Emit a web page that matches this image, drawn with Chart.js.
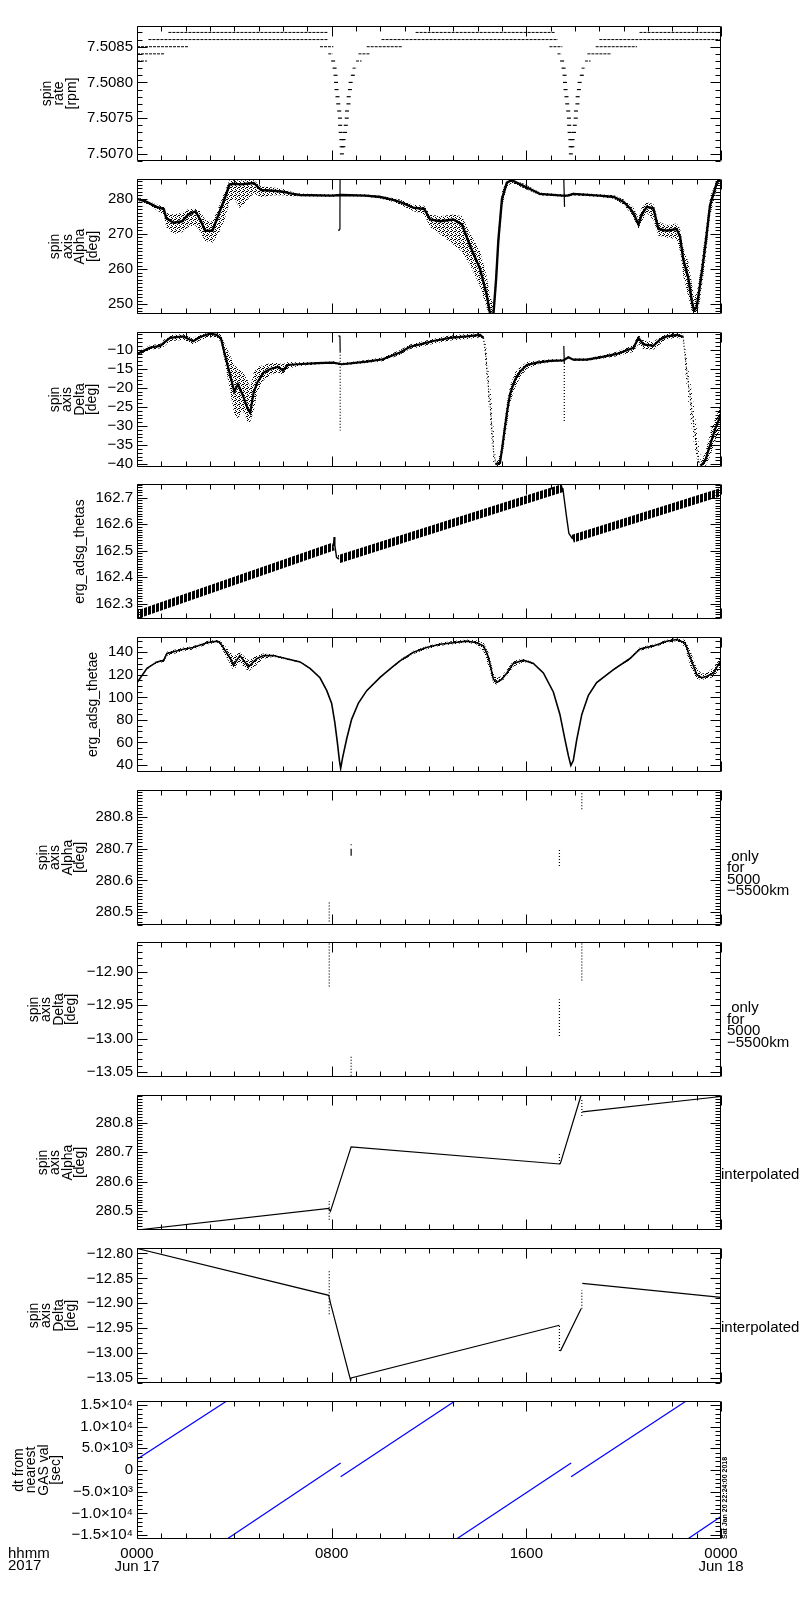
<!DOCTYPE html>
<html><head><meta charset="utf-8">
<script src="https://cdn.jsdelivr.net/npm/chart.js@4.4.1/dist/chart.umd.min.js"></script>
<style>
html,body{margin:0;padding:0;background:#fff;}
#wrap{position:relative;width:800px;height:1600px;overflow:hidden;background:#fff;}
#wrap canvas{position:absolute;left:0;}
</style></head><body><div id="wrap"></div>
<script>
// ===================== DATA (hours since 2017-06-17 00:00) =====================
const X_TICKS = [0, 8, 16, 24];
const X_LABELS = [['0000','Jun 17'], ['0800'], ['1600'], ['0000','Jun 18']];

// Panel 1: spin rate [rpm] – quantised levels (level, start h, end h)
const P1_LEVEL = [7.5083,7.5084,7.5085,7.5086,7.5087, 7.5085,7.5084, 7.5081,7.5082,7.5083,7.5084,7.5085,7.5086,7.5087, 7.5085,7.5084, 7.5081,7.5082,7.5083,7.5084,7.5085,7.5086,7.5087];
const P1_START = [0,0,0,0.47,1.29, 7.52,7.86, 8.86,8.86,9.00,9.10,9.44,10.05,11.45, 16.95,17.28, 18.27,18.27,18.41,18.51,18.85,19.00,20.65];
const P1_END   = [0.41,1.15,2.11,7.86,7.86, 8.07,8.04, 8.89,9.03,9.23,9.58,10.90,17.30,17.20, 17.48,17.45, 18.30,18.44,18.64,19.50,20.55,24,24];
const P1_DIP_T = [8.06,8.12,8.16,8.18,8.20,8.24,8.27,8.31,8.34,8.35,8.37,8.40,8.41,8.42,8.48,8.49,8.55,8.58,8.62,8.63,8.69,8.70,8.75,8.78,8.87,
                  17.47,17.53,17.57,17.59,17.61,17.65,17.68,17.72,17.75,17.76,17.78,17.81,17.82,17.83,17.89,17.90,17.96,17.99,18.03,18.04,18.10,18.11,18.16,18.19,18.28];
const P1_DIP_V = [7.5083,7.5082,7.5081,7.5080,7.5079,7.5078,7.5077,7.5076,7.5075,7.5074,7.5073,7.5072,7.5071,7.5070,7.5071,7.5072,7.5073,7.5074,7.5075,7.5076,7.5077,7.5078,7.5079,7.5080,7.5081,
                  7.5083,7.5082,7.5081,7.5080,7.5079,7.5078,7.5077,7.5076,7.5075,7.5074,7.5073,7.5072,7.5071,7.5070,7.5071,7.5072,7.5073,7.5074,7.5075,7.5076,7.5077,7.5078,7.5079,7.5080,7.5081];

// Panel 2: spin axis Alpha [deg]
const P2_T = [0,0.4,0.8,1.1,1.2,1.5,1.85,2.1,2.4,2.6,2.8,3.1,3.35,3.6,3.8,4.0,4.25,4.5,4.8,5.1,5.6,6.0,6.4,6.7,8.0,
  8.4,9.4,10.0,10.4,10.8,11.35,11.8,12.05,12.45,13.0,13.35,13.7,14.1,14.37,14.51,14.65,14.76,14.85,15.0,15.2,15.4,15.9,16.3,16.55,17.5,
  17.7,17.93,19.0,19.6,20.0,20.26,20.4,20.61,20.74,20.95,21.22,21.43,21.77,22.18,22.32,22.45,22.66,22.8,22.89,23.0,23.14,23.35,23.55,23.83,23.96];
const P2_MID = [280,279.1,277.7,277.1,274.5,273.2,273.6,275.5,276.4,274.1,270.9,270.9,275.5,280,284.1,284.3,284.1,284.3,284.5,282.5,282.3,282.0,281.4,281.1,280.9,
  281.1,280.9,280.5,279.9,279.1,277.5,277.1,274.1,273.6,274.1,272.7,266.4,260.0,252.7,247.3,247.3,257.3,268.2,280.0,284.6,285.3,283.6,282.3,281.4,280.9,
  280.9,281.4,280.9,280.5,279.1,277.3,275.9,272.7,275.5,277.7,277.3,271.4,270.9,271.4,269.1,262.7,257.3,250.9,248.2,249.1,255.5,266.4,278.2,284.6,285.5];
const P2_LO = [279.5,278.5,276.8,275.5,272,270,270.5,272,272.5,270.5,268,267.5,270,274,279,280,277,279.5,281.5,280.5,281,281,280.7,280.7,280.6,
  280.8,280.6,280.1,279.4,278.4,276.5,275.5,272,270,267,265,261,255,249,246,246,254,265,277.5,283.5,284.5,283,281.8,281,280.6,
  280.6,281.0,280.5,280.0,278.3,276.2,274.5,271.5,273.5,276,274,269.5,269,268.5,265,258,252,248,247,247,251,262,275,283,284.5];
const P2_HI = [280.5,279.6,278.4,277.8,276,275.5,276,277,277.2,276.5,274,273.5,277.5,282,285.3,285.3,285.2,285.3,285.3,283.5,283.2,282.8,281.9,281.5,281.2,
  281.4,281.2,280.9,280.4,279.8,278.3,278,275.5,275,275.5,275,270,265,258,252,250,261,271,282,285.5,285.6,284.3,282.8,281.8,281.2,
  281.2,281.7,281.3,281.0,279.8,278.3,277.5,274.5,277.5,279,278.5,273.5,272.5,273,271.5,266,262,256,252,253,259,270,280.5,285.5,285.6];
const P2_SPIKE1_T = [8.27,8.30,8.33,8.34,8.345];
const P2_SPIKE1_V = [271.0,271.1,271.4,276,285.6];
const P2_SPIKE2_T = [17.54,17.57];
const P2_SPIKE2_V = [285.5,277.7];

// Panel 3: spin axis Delta [deg]
const P3A_T = [0,0.55,0.96,1.1,1.36,1.9,2.31,2.59,3.0,3.27,3.45,3.6,3.8,4.0,4.15,4.35,4.55,4.65,4.8,4.95,5.2,5.5,5.8,6.0,6.2,6.6,7.4,8.07,8.41,9.44,10.1,10.81,11.22,11.63,12.18,12.86,13.55,14.1,14.24];
const P3A_MID = [-11.1,-9.4,-9.0,-8.2,-6.9,-6.5,-7.75,-6.66,-5.8,-6.1,-7.0,-11,-16,-21,-19,-22,-25.5,-26.5,-21,-18.5,-16,-15,-14.5,-15.5,-14,-13.8,-13.5,-13.4,-13.8,-13.1,-12.5,-10.7,-9.2,-8.6,-7.7,-6.9,-6.5,-6.1,-6.9];
const P3A_LO = [-11.6,-10,-9.6,-9.2,-7.8,-7.4,-8.6,-7.5,-6.6,-6.8,-8,-13,-20,-27,-28,-26,-29,-29,-26,-21,-18,-16.5,-16,-16.5,-15,-14.3,-13.8,-13.7,-14.1,-13.5,-13.0,-11.3,-9.8,-9.3,-8.4,-7.6,-7.2,-6.8,-7.5];
const P3A_HI = [-10.6,-8.8,-8.4,-7.4,-6.2,-5.9,-6.9,-6.0,-5.4,-5.5,-6,-8.5,-11,-14,-15,-16,-18,-20,-16,-14.5,-14,-13.5,-13.5,-13.8,-13.2,-13.3,-13.2,-13.1,-13.5,-12.7,-12.0,-10.1,-8.6,-8.0,-7.1,-6.3,-5.9,-5.6,-6.2];
const P3D1_T = [14.24,14.35,14.44,14.54,14.65,14.74];
const P3D1_MID = [-6.9,-12.35,-19.9,-26.6,-36.6,-40.0];
const P3D1_LO = [-7.5,-16,-24,-31,-40.7,-40.7];
const P3D1_HI = [-6.2,-9,-15,-21,-30,-38];
const P3B_T = [14.74,14.92,15.06,15.2,15.33,15.54,15.75,16.02,16.43,16.98,17.52,17.73,17.93,18.48,19.03,19.72,20.4,20.61,20.81,21.22,21.5,21.77,22.18,22.45];
const P3B_MID = [-40.0,-39.6,-33.3,-26.6,-21.6,-17.8,-15.7,-14.0,-13.4,-12.9,-12.8,-12.0,-12.6,-12.6,-12.0,-11.1,-9.5,-6.9,-8.6,-9.0,-7.3,-6.5,-6.1,-6.6];
const P3B_LO = [-40.7,-40.7,-36,-30,-24,-20,-17.2,-15,-13.9,-13.3,-13.1,-12.3,-12.9,-12.9,-12.4,-11.7,-10.5,-8.5,-9.8,-10,-8.5,-7.3,-6.8,-7.3];
const P3B_HI = [-39.5,-37.5,-31,-24,-19.5,-16,-14.5,-13.2,-12.9,-12.5,-12.4,-11.7,-12.3,-12.3,-11.6,-10.5,-8.6,-6.0,-7.5,-8.0,-6.5,-5.8,-5.5,-5.9];
const P3D2_T = [22.45,22.52,22.66,22.87,23.07,23.17];
const P3D2_MID = [-6.6,-11.5,-19.0,-29.1,-39.1,-40.4];
const P3D2_LO = [-7.3,-15,-24,-34,-40.7,-40.7];
const P3D2_HI = [-5.9,-9,-15,-24,-34,-38];
const P3C_T = [23.17,23.35,23.55,23.76,23.96];
const P3C_MID = [-40.4,-39.1,-35.0,-30.8,-27.5];
const P3C_LO = [-40.7,-40.7,-38,-34,-31];
const P3C_HI = [-39.5,-37,-32,-28,-25];
const P3_SPIKE1_T = [8.28,8.34,8.35];
const P3_SPIKE1_V = [-6.3,-6.5,-10.5];
const P3_SPIKE1_DOT_T = [8.35,8.35];
const P3_SPIKE1_DOT_V = [-10.5,-31.2];
const P3_SPIKE2_T = [17.54,17.56];
const P3_SPIKE2_V = [-9.0,-13.5];
const P3_SPIKE2_DOT_T = [17.56,17.56];
const P3_SPIKE2_DOT_V = [-13.5,-29.1];

// Panel 4: erg_adsg_thetas – three ramps and two jumps
const P4_RAMP_T0 = [0, 8.30, 17.90];
const P4_RAMP_V0 = [162.258, 162.468, 162.545];
const P4_RAMP_T1 = [8.07, 17.50, 24];
const P4_RAMP_V1 = [162.516, 162.737, 162.722];
const P4_JUMP1_T = [8.07, 8.10, 8.13, 8.20, 8.30];
const P4_JUMP1_V = [162.516, 162.552, 162.52, 162.475, 162.468];
const P4_JUMP2_T = [17.50, 17.55, 17.65, 17.75, 17.90];
const P4_JUMP2_V = [162.737, 162.70, 162.63, 162.565, 162.545];

// Panel 5: erg_adsg_thetae
const P5_T = [0,0.41,0.82,1.1,1.23,1.9,2.3,2.88,3.3,3.42,3.84,3.96,4.23,4.58,4.92,5.19,5.6,6.15,6.7,7.11,7.52,7.8,8.0,8.13,8.23,8.32,8.37,8.45,8.62,8.82,9.1,9.44,10.0,10.5,10.81,
  11.36,11.9,12.45,13.0,13.55,13.96,14.24,14.44,14.65,14.78,14.99,15.2,15.47,15.88,16.29,16.7,17.11,17.38,17.59,17.73,17.83,17.93,18.07,18.28,18.55,18.89,19.58,20.26,20.67,21.22,21.77,22.18,22.52,22.73,23.0,23.21,23.42,23.69,23.96];
const P5_MID = [113,125.8,131.5,133,139,142.8,144.2,148.5,149.9,148.5,134.3,128.6,137.1,127.2,134.3,137.1,137.1,134.3,131.5,125.8,117.4,106,94.7,77.7,60.7,43.7,37,46.5,63.5,80.5,95,106,118,127,132.5,
  140,144.2,147.1,148.5,149.9,148.5,145.7,135.8,116,113.2,116,121.7,130.2,133,130.2,121.7,104.8,84.9,62.3,48.1,39.6,43.9,62.3,84.9,101.9,113.2,124.6,134.5,143,145.7,149.9,151.4,148.5,135.8,120.2,117.4,118.8,121.7,131.6];
const P5_LO = [112.5,125,130,131.5,137,141,142.5,147,148.5,146,129,124,131,123,129,134,136,133.5,131,125.3,116.9,105.5,94.2,77.2,60.2,43.2,36.5,46,63,80,94.5,105.5,117.5,126.5,131.5,
  138.5,142.8,145.8,147.2,148.5,147,141,128,112.5,111.5,114,119,127.5,131.5,129.7,121.2,104.3,84.4,61.8,47.6,39.1,43.4,61.8,84.4,101.4,112.7,124.1,133.5,141.5,144.3,148.5,150,145,128,116.5,115.5,116.5,118,126];
const P5_HI = [113.5,126.5,132.5,134.5,140.5,144.2,145.5,150,151.2,150.5,140,136,140,133,137,139,138,135,132,126.3,117.9,106.5,95.2,78.2,61.2,44.2,37.5,47,64,81,95.5,106.5,118.5,127.5,133.5,
  141.5,145.5,148.5,150,151.3,150.5,148.5,140,122,117,119,124.5,132.5,134.5,130.7,122.2,105.3,85.4,62.8,48.6,40.1,44.4,62.8,85.4,102.4,113.7,125.1,135.5,144.5,147,151.2,152.8,151,142,126,121,122,126,135];

// Panel 6: Alpha only for 5000-5500 km
const P6_SEG_T = [7.90, 17.36, 18.28];
const P6_SEG_LO = [280.47, 280.646, 280.825];
const P6_SEG_HI = [280.53, 280.698, 280.878];
const P6_STEM_T = [8.80];
const P6_STEM_LO = [280.678];
const P6_STEM_HI = [280.700];
const P6_DOT_T = [8.80];
const P6_DOT_V = [280.713];

// Panel 7: Delta only for 5000-5500 km
const P7_SEG_T = [7.90, 8.80, 17.36, 18.28];
const P7_SEG_LO = [-12.922, -13.055, -12.996, -12.913];
const P7_SEG_HI = [-12.858, -13.026, -12.941, -12.858];

// Panel 8: Alpha interpolated
const P8_T = [0, 7.88, 7.95, 8.80, 17.36, 17.40, 18.25, 18.27, 18.30, 24];
const P8_V = [280.437, 280.51, 280.50, 280.718, 280.66, 280.662, 280.892, null, 280.836, 280.888];
const P8_SEG_T = [7.90, 17.36, 18.28];
const P8_SEG_LO = [280.472, 280.66, 280.822];
const P8_SEG_HI = [280.535, 280.70, 280.88];

// Panel 9: Delta interpolated
const P9_T = [0, 7.88, 7.95, 8.78, 8.80, 17.36, 17.38, 17.40, 18.25, 18.27, 18.30, 24];
const P9_V = [-12.790, -12.884, -12.899, -13.055, -13.050, -12.944, null, -12.996, -12.911, null, -12.860, -12.888];
const P9_SEG_T = [7.90, 17.36, 18.28];
const P9_SEG_LO = [-12.922, -12.996, -12.911];
const P9_SEG_HI = [-12.832, -12.944, -12.874];

// Panel 10: dt from nearest GAS val [sec] – straight pieces
const P10_T0 = [0, 3.67, 8.37, 13.10, 17.84, 22.60];
const P10_V0 = [2500, -16000, -1550, -16000, -1550, -16000];
const P10_T1 = [3.72, 8.37, 13.10, 17.84, 22.60, 24];
const P10_V1 = [16000, 1600, 16000, 1600, 16000, -10700];

// Axis tick labels
const Y1 = [7.5070, 7.5075, 7.5080, 7.5085];
const Y2 = [250, 260, 270, 280];
const Y3 = [-40, -35, -30, -25, -20, -15, -10];
const Y4 = [162.3, 162.4, 162.5, 162.6, 162.7];
const Y5 = [40, 60, 80, 100, 120, 140];
const Y6 = [280.5, 280.6, 280.7, 280.8];
const Y7 = [-13.05, -13.00, -12.95, -12.90];
const Y8 = [280.5, 280.6, 280.7, 280.8];
const Y9 = [-13.05, -13.00, -12.95, -12.90, -12.85, -12.80];
const Y10 = [-15000, -10000, -5000, 0, 5000, 10000, 15000];
const Y10_TEXT = ['\u22121.5\u00d710\u2074','\u22121.0\u00d710\u2074','\u22125.0\u00d710\u00b3','0','5.0\u00d710\u00b3','1.0\u00d710\u2074','1.5\u00d710\u2074'];

// ===================== RENDERING =====================
const FAM = "'Liberation Sans', 'DejaVu Sans', sans-serif";
Chart.defaults.font.family = FAM;
Chart.defaults.font.size = 15;
Chart.defaults.color = '#000';

const PANEL_TOPS = [23, 176, 329, 481, 634, 787, 939, 1092, 1245, 1398];
const PH = 141, M = 10;
const wrap = document.getElementById('wrap');

function makePat(w, h, cells) {
  const c = document.createElement('canvas'); c.width = w; c.height = h;
  const g = c.getContext('2d'); g.fillStyle = '#000';
  cells.forEach(([x, y]) => g.fillRect(x, y, 1, 1));
  return g.createPattern(c, 'repeat');
}
const STIPPLE = makePat(4, 4, [[0,0],[2,1],[1,2],[3,3],[3,1]]);
const SPARSE = makePat(5, 5, [[0,0],[3,2],[1,4]]);
const STRIPES = makePat(4, 1, [[0,0],[1,0],[2,0]]);

function pts(xs, ys) { return xs.map((x, i) => ({x: x, y: ys[i]})); }
function ln(data, o) {
  return Object.assign({data: data, borderColor: '#000', borderWidth: 1, pointRadius: 0, tension: 0, fill: false, spanGaps: false}, o || {});
}
function env(t, lo, hi, pat) {
  return [ln(pts(t, lo), {borderWidth: 0}), ln(pts(t, hi), {borderWidth: 0, fill: '-1', backgroundColor: pat})];
}
function vsegs(t, lo, hi, o) { return t.map((x, i) => ln([{x: x, y: lo[i]}, {x: x, y: hi[i]}], o)); }
const DOTTED = {borderDash: [1, 2], borderWidth: 1.2};

const minus = s => s.replace('-', '\u2212');

const panels = [];
// 1
panels.push({
  min: 7.50690, max: 7.50879, labels: Y1, minor: 0.0001, fmt: v => v.toFixed(4),
  title: ['spin', 'rate', '[rpm]'],
  datasets: P1_LEVEL.map((L, i) => ln([{x: P1_START[i], y: L}, {x: P1_END[i], y: L}], {borderDash: [3, 1]}))
    .concat([{data: pts(P1_DIP_T, P1_DIP_V), showLine: false, pointStyle: 'line', pointRadius: 2, pointBorderWidth: 1.2, pointBorderColor: '#000', pointBackgroundColor: '#000'}])
});
// 2
panels.push({
  min: 247.19, max: 285.64, labels: Y2, minor: 1, fmt: v => String(v),
  title: ['spin', 'axis', 'Alpha', '[deg]'],
  datasets: env(P2_T, P2_LO, P2_HI, STIPPLE).concat([
    ln(pts(P2_T, P2_MID), {borderWidth: 2.4}),
    ln(pts(P2_SPIKE1_T, P2_SPIKE1_V), {borderWidth: 1.2}),
    ln(pts(P2_SPIKE2_T, P2_SPIKE2_V), {borderWidth: 1.2})
  ])
});
// 3
panels.push({
  min: -40.75, max: -5.35, labels: Y3, minor: 1, fmt: v => minus(String(v)),
  title: ['spin', 'axis', 'Delta', '[deg]'],
  datasets: [].concat(
    env(P3A_T, P3A_LO, P3A_HI, STIPPLE), env(P3B_T, P3B_LO, P3B_HI, STIPPLE), env(P3C_T, P3C_LO, P3C_HI, STIPPLE),
    env(P3D1_T, P3D1_LO, P3D1_HI, SPARSE), env(P3D2_T, P3D2_LO, P3D2_HI, SPARSE),
    [ln(pts(P3A_T, P3A_MID), {borderWidth: 2.2}), ln(pts(P3B_T, P3B_MID), {borderWidth: 2.2}), ln(pts(P3C_T, P3C_MID), {borderWidth: 2.2}),
     ln(pts(P3D1_T, P3D1_MID), DOTTED), ln(pts(P3D2_T, P3D2_MID), DOTTED),
     ln(pts(P3_SPIKE1_T, P3_SPIKE1_V), {borderWidth: 1.2}), ln(pts(P3_SPIKE1_DOT_T, P3_SPIKE1_DOT_V), DOTTED),
     ln(pts(P3_SPIKE2_T, P3_SPIKE2_V), {borderWidth: 1.2}), ln(pts(P3_SPIKE2_DOT_T, P3_SPIKE2_DOT_V), DOTTED)])
});
// 4
panels.push({
  min: 162.242, max: 162.752, labels: Y4, minor: 0.01, fmt: v => v.toFixed(1),
  title: ['erg_adsg_thetas'],
  datasets: P4_RAMP_T0.map((t0, i) => ln([{x: t0, y: P4_RAMP_V0[i]}, {x: P4_RAMP_T1[i], y: P4_RAMP_V1[i]}], {borderWidth: 8, borderColor: STRIPES, borderCapStyle: 'butt'}))
    .concat([ln(pts(P4_JUMP1_T, P4_JUMP1_V), {borderWidth: 1.4}), ln(pts(P4_JUMP2_T, P4_JUMP2_V), {borderWidth: 1.4})])
});
// 5
panels.push({
  min: 33.8, max: 153.6, labels: Y5, minor: 5, fmt: v => String(v),
  title: ['erg_adsg_thetae'],
  datasets: env(P5_T, P5_LO, P5_HI, STIPPLE).concat([ln(pts(P5_T, P5_MID), {borderWidth: 1.6})])
});
// 6
panels.push({
  min: 280.459, max: 280.886, labels: Y6, minor: 0.01, fmt: v => v.toFixed(1),
  title: ['spin', 'axis', 'Alpha', '[deg]'],
  right: {lines: [' only', 'for', '5000', '\u22125500km'], x: 727, y0: 67, dy: 11.2},
  datasets: vsegs(P6_SEG_T, P6_SEG_LO, P6_SEG_HI, DOTTED)
    .concat(vsegs(P6_STEM_T, P6_STEM_LO, P6_STEM_HI, {borderWidth: 1.2}))
    .concat([{data: pts(P6_DOT_T, P6_DOT_V), showLine: false, pointStyle: 'rect', pointRadius: 0.8, pointBorderWidth: 0, pointBackgroundColor: '#000'}])
});
// 7
panels.push({
  min: -13.057, max: -12.8556, labels: Y7, minor: 0.01, fmt: v => minus(v.toFixed(2)),
  title: ['spin', 'axis', 'Delta', '[deg]'],
  right: {lines: [' only', 'for', '5000', '\u22125500km'], x: 727, y0: 66, dy: 11.5},
  datasets: vsegs(P7_SEG_T, P7_SEG_LO, P7_SEG_HI, DOTTED)
});
// 8
panels.push({
  min: 280.437, max: 280.893, labels: Y8, minor: 0.01, fmt: v => v.toFixed(1),
  title: ['spin', 'axis', 'Alpha', '[deg]'],
  right: {lines: ['interpolated'], x: 721, y0: 79.5, dy: 0},
  datasets: [ln(pts(P8_T, P8_V), {borderWidth: 1.2})].concat(vsegs(P8_SEG_T, P8_SEG_LO, P8_SEG_HI, DOTTED))
});
// 9
panels.push({
  min: -13.060, max: -12.789, labels: Y9, minor: 0.01, fmt: v => minus(v.toFixed(2)),
  title: ['spin', 'axis', 'Delta', '[deg]'],
  right: {lines: ['interpolated'], x: 721, y0: 79.5, dy: 0},
  datasets: [ln(pts(P9_T, P9_V), {borderWidth: 1.2})].concat(vsegs(P9_SEG_T, P9_SEG_LO, P9_SEG_HI, DOTTED))
});
// 10
panels.push({
  min: -15900, max: 15900, labels: Y10, minor: 1000, fmt: v => Y10_TEXT[Y10.indexOf(v)],
  title: ['dt from', 'nearest', 'GAS val', '[sec]'],
  stamp: 'Sat Jan 20 22:24:00 2018',
  datasets: P10_T0.map((t0, i) => ln([{x: t0, y: P10_V0[i]}, {x: P10_T1[i], y: P10_V1[i]}], {borderColor: '#0000ff', borderWidth: 1.3}))
});

function deco(spec, last) {
  return {
    id: 'deco',
    afterDraw(chart) {
      const ctx = chart.ctx, a = chart.chartArea, xs = chart.scales.x, ys = chart.scales.y;
      ctx.save();
      ctx.strokeStyle = '#000'; ctx.lineWidth = 1;
      const L = Math.round(a.left) + 0.5, R = Math.round(a.right) - 0.5, T = Math.round(a.top) + 0.5, B = Math.round(a.bottom) - 0.5;
      ctx.beginPath();
      ctx.rect(L, T, R - L, B - T);
      const st = spec.minor;
      const i0 = Math.ceil(spec.min / st - 1e-6), i1 = Math.floor(spec.max / st + 1e-6);
      for (let i = i0; i <= i1; i++) {
        const v = i * st;
        const major = spec.labels.some(l => Math.abs(l - v) < st * 0.01);
        const len = major ? 10 : 5;
        const py = Math.round(ys.getPixelForValue(v)) + 0.5;
        ctx.moveTo(L, py); ctx.lineTo(L + len, py);
        ctx.moveTo(R, py); ctx.lineTo(R - len, py);
      }
      for (let h = 0; h <= 24; h++) {
        const len = (h % 8 === 0) ? 10 : 5;
        const px = Math.round(xs.getPixelForValue(h)) + 0.5;
        ctx.moveTo(px, B); ctx.lineTo(px, B - len);
        ctx.moveTo(px, T); ctx.lineTo(px, T + len);
      }
      ctx.stroke();
      // y title
      ctx.font = '15px ' + FAM;
      let widest = 0;
      spec.labels.forEach(v => { widest = Math.max(widest, ctx.measureText(spec.fmt(v)).width); });
      const right = a.left - 4 - widest - 9;
      const n = spec.title.length, sp = 12.5, cy = (a.top + a.bottom) / 2;
      ctx.fillStyle = '#000';
      ctx.font = '14px ' + FAM;
      ctx.textAlign = 'center'; ctx.textBaseline = 'middle';
      spec.title.forEach((line, i) => {
        const cx = right - (n - i - 0.5) * sp;
        ctx.save(); ctx.translate(cx, cy); ctx.rotate(-Math.PI / 2); ctx.fillText(line, 0, 0); ctx.restore();
      });
      // right-side annotation
      if (spec.right) {
        ctx.font = '15px ' + FAM; ctx.textAlign = 'left'; ctx.textBaseline = 'middle';
        spec.right.lines.forEach((s, i) => ctx.fillText(s, spec.right.x, a.top + spec.right.y0 + i * spec.right.dy));
      }
      if (spec.stamp) {
        ctx.save();
        ctx.font = 'bold 7px ' + FAM; ctx.textAlign = 'left'; ctx.textBaseline = 'middle';
        ctx.translate(a.right + 4, a.bottom); ctx.rotate(-Math.PI / 2);
        ctx.fillText(spec.stamp, 0, 0);
        ctx.restore();
      }
      if (last) {
        ctx.font = '15px ' + FAM; ctx.textAlign = 'left'; ctx.textBaseline = 'middle';
        ctx.fillText('hhmm', 8, a.bottom + 14.5);
        ctx.fillText('2017', 8, a.bottom + 27);
      }
      ctx.restore();
    }
  };
}

panels.forEach((spec, k) => {
  const last = k === panels.length - 1;
  const h = PH + M + (last ? 50 : M);
  const c = document.createElement('canvas');
  c.width = 800; c.height = h;
  c.style.top = (PANEL_TOPS[k] - M) + 'px';
  c.style.width = '800px'; c.style.height = h + 'px';
  wrap.appendChild(c);
  const xScale = {
    type: 'linear', min: 0, max: 24, display: last,
    grid: {display: false, drawTicks: false}, border: {display: false},
    afterBuildTicks: s => { s.ticks = X_TICKS.map(v => ({value: v})); },
    ticks: {autoSkip: false, maxRotation: 0, minRotation: 0, padding: 8, font: {size: 15, lineHeight: 0.87},
      callback: v => X_LABELS[X_TICKS.indexOf(v)]}
  };
  if (last) xScale.afterFit = s => { s.height = 50; };
  new Chart(c, {
    type: 'line',
    data: {datasets: spec.datasets},
    options: {
      responsive: false, animation: false, events: [], devicePixelRatio: 1,
      layout: {autoPadding: false, padding: {left: 0, right: 79, top: M, bottom: last ? 0 : M}},
      plugins: {legend: {display: false}, tooltip: {enabled: false}},
      scales: {
        x: xScale,
        y: {
          type: 'linear', min: spec.min, max: spec.max,
          grid: {display: false, drawTicks: false}, border: {display: false},
          afterBuildTicks: s => { s.ticks = spec.labels.map(v => ({value: v})); },
          afterFit: s => { s.width = 137; },
          ticks: {autoSkip: false, padding: 4, font: {size: 15}, callback: v => spec.fmt(v)}
        }
      }
    },
    plugins: [deco(spec, last)]
  });
});
</script></body></html>
